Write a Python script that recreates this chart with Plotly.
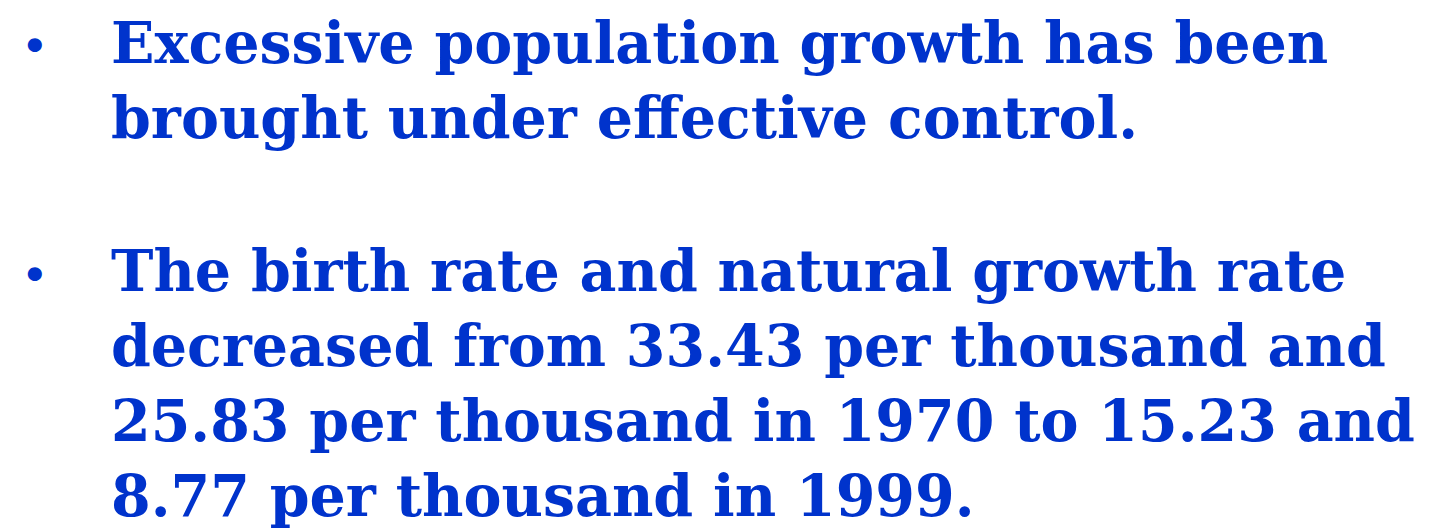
import plotly.graph_objects as go

bullet_1_lines = ["Excessive population growth has been",
                  "brought under effective control."]
bullet_2_lines = ["The birth rate and natural growth rate",
                  "decreased from 33.43 per thousand and",
                  "25.83 per thousand in 1970 to 15.23 and",
                  "8.77 per thousand in 1999."]
bullets = [bullet_1_lines, bullet_2_lines]

W, H = 1431, 531
COLOR = "#0033CC"
FONT = "DejaVu Serif"
SIZE = 57
LINE_H = 75
first_line_y = [34, 262]
text_x = 101
bullet_x = 12

fig = go.Figure()
ann = []
for lines, y0 in zip(bullets, first_line_y):
    ann.append(dict(x=bullet_x / W, y=1 - (y0 + 4) / H, xref="paper", yref="paper",
                    text="<b>•</b>", showarrow=False, xanchor="left", yanchor="middle",
                    font=dict(family=FONT, size=40, color=COLOR)))
    for i, line in enumerate(lines):
        ann.append(dict(x=text_x / W, y=1 - (y0 + i * LINE_H) / H, xref="paper", yref="paper",
                        text="<b>" + line + "</b>", showarrow=False,
                        xanchor="left", yanchor="middle",
                        font=dict(family=FONT, size=SIZE, color=COLOR)))

fig.update_layout(width=W, height=H, margin=dict(l=0, r=0, t=0, b=0),
                  paper_bgcolor="white", plot_bgcolor="white",
                  xaxis=dict(visible=False, range=[0, 1]),
                  yaxis=dict(visible=False, range=[0, 1]),
                  annotations=ann)
fig.write_html("out.html")
